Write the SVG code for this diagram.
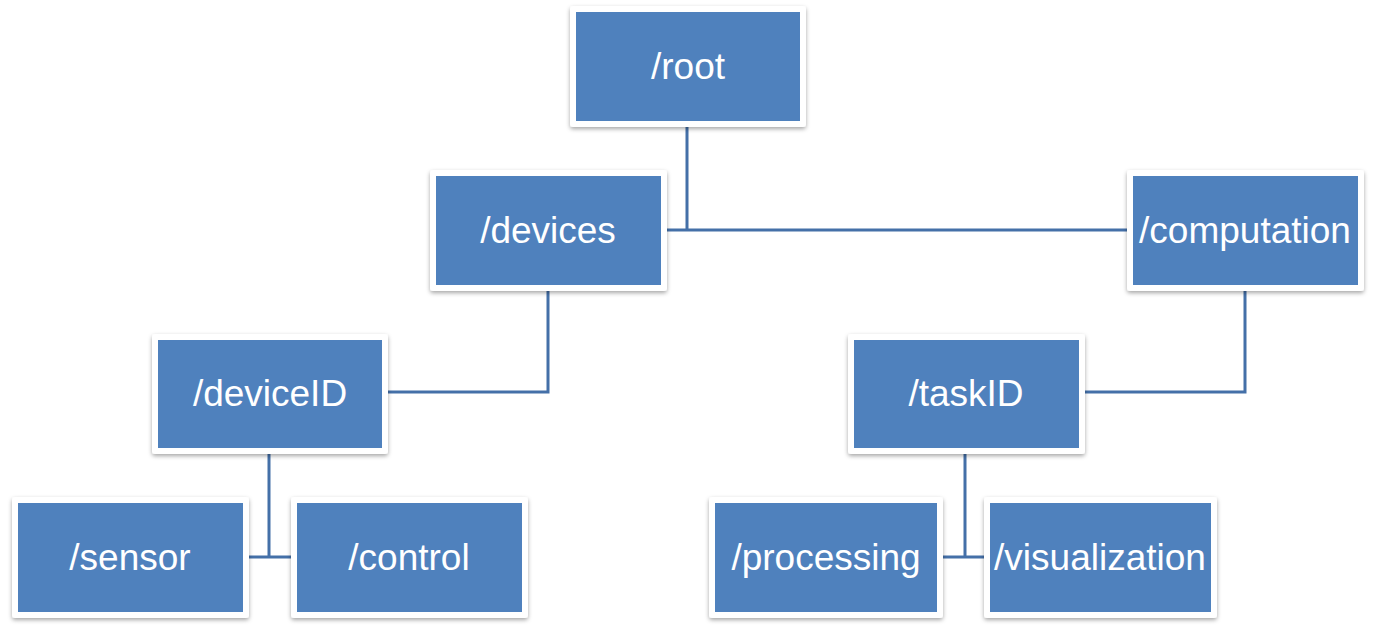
<svg xmlns="http://www.w3.org/2000/svg" width="1374" height="634" viewBox="0 0 1374 634">
<style>
.frame{fill:#ffffff;filter:url(#sh)}
.box{fill:#4f81bd}
.lbl{fill:#ffffff;font-family:"Liberation Sans","Open Sans",sans-serif;font-size:37px;text-anchor:middle}
.conn{fill:none;stroke:#4470a8;stroke-width:3}
</style>
<defs>
<filter id="sh" x="-10%" y="-10%" width="120%" height="130%">
<feDropShadow dx="0" dy="2" stdDeviation="2" flood-color="#000" flood-opacity="0.35"/>
</filter>
</defs>
<rect width="1374" height="634" fill="#ffffff"/>
<g id="connectors">
<path class="conn" d="M687 127V230M667 230H1127"/>
<path class="conn" d="M548 291V392H388"/>
<path class="conn" d="M1245 291V392H1085"/>
<path class="conn" d="M269 454V557M249 557H291"/>
<path class="conn" d="M965 454V557M943 557H984"/>
</g>
<g id="root">
<rect class="frame" x="570" y="6" width="236" height="121" rx="3"/>
<rect class="box" x="576" y="12" width="224" height="109"/>
<text class="lbl" x="688" y="79">/root</text>
</g>
<g id="devices">
<rect class="frame" x="430" y="170" width="237" height="121" rx="3"/>
<rect class="box" x="436" y="176" width="225" height="109"/>
<text class="lbl" x="548" y="243">/devices</text>
</g>
<g id="computation">
<rect class="frame" x="1127" y="170" width="237" height="121" rx="3"/>
<rect class="box" x="1133" y="176" width="225" height="109"/>
<text class="lbl" x="1245" y="243">/computation</text>
</g>
<g id="deviceID">
<rect class="frame" x="152" y="334" width="236" height="120" rx="3"/>
<rect class="box" x="158" y="340" width="224" height="108"/>
<text class="lbl" x="270" y="406">/deviceID</text>
</g>
<g id="taskID">
<rect class="frame" x="848" y="334" width="237" height="120" rx="3"/>
<rect class="box" x="854" y="340" width="225" height="108"/>
<text class="lbl" x="966" y="406">/taskID</text>
</g>
<g id="sensor">
<rect class="frame" x="12" y="497" width="237" height="121" rx="3"/>
<rect class="box" x="18" y="503" width="225" height="109"/>
<text class="lbl" x="130" y="570">/sensor</text>
</g>
<g id="control">
<rect class="frame" x="291" y="497" width="237" height="121" rx="3"/>
<rect class="box" x="297" y="503" width="225" height="109"/>
<text class="lbl" x="409" y="570">/control</text>
</g>
<g id="processing">
<rect class="frame" x="709" y="497" width="234" height="121" rx="3"/>
<rect class="box" x="715" y="503" width="222" height="109"/>
<text class="lbl" x="826" y="570">/processing</text>
</g>
<g id="visualization">
<rect class="frame" x="984" y="497" width="233" height="121" rx="3"/>
<rect class="box" x="990" y="503" width="221" height="109"/>
<text class="lbl" x="1100" y="570">/visualization</text>
</g>
</svg>
